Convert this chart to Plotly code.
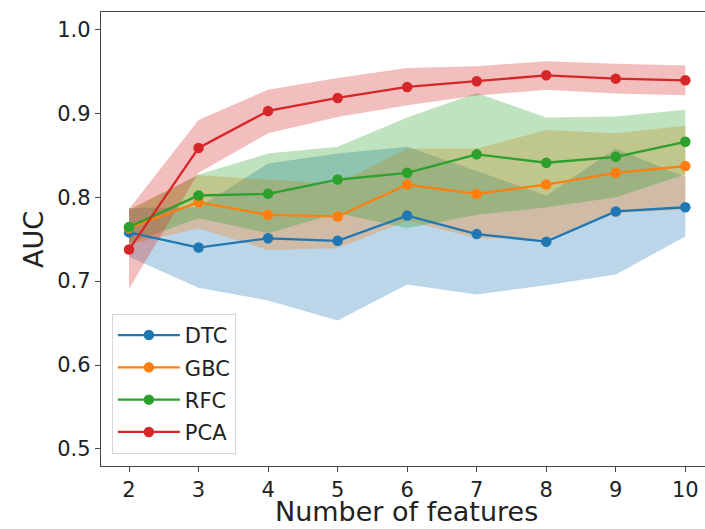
import plotly.graph_objects as go

features = [2, 3, 4, 5, 6, 7, 8, 9, 10]

dtc_mean = [0.758, 0.740, 0.751, 0.748, 0.778, 0.756, 0.747, 0.783, 0.788]
dtc_low = [0.729, 0.692, 0.677, 0.653, 0.696, 0.684, 0.695, 0.708, 0.753]
dtc_high = [0.787, 0.788, 0.840, 0.852, 0.860, 0.831, 0.802, 0.858, 0.824]

gbc_mean = [0.763, 0.794, 0.779, 0.777, 0.815, 0.804, 0.815, 0.829, 0.837]
gbc_low = [0.743, 0.763, 0.737, 0.739, 0.772, 0.751, 0.750, 0.781, 0.785]
gbc_high = [0.786, 0.826, 0.821, 0.816, 0.858, 0.858, 0.880, 0.876, 0.885]

rfc_mean = [0.7645, 0.802, 0.804, 0.821, 0.829, 0.851, 0.841, 0.848, 0.866]
rfc_low = [0.745, 0.775, 0.757, 0.781, 0.763, 0.779, 0.788, 0.800, 0.827]
rfc_high = [0.784, 0.827, 0.852, 0.860, 0.895, 0.924, 0.895, 0.896, 0.904]

pca_mean = [0.7376, 0.8586, 0.9027, 0.9182, 0.9313, 0.938, 0.9452, 0.9412, 0.9392]
pca_low = [0.691, 0.829, 0.876, 0.8955, 0.9095, 0.921, 0.928, 0.9234, 0.9214]
pca_high = [0.786, 0.892, 0.928, 0.942, 0.954, 0.956, 0.962, 0.959, 0.957]

names = ["DTC", "GBC", "RFC", "PCA"]
colors = [(31, 119, 180), (255, 127, 14), (44, 160, 44), (214, 39, 40)]
series = [
    (dtc_mean, dtc_low, dtc_high),
    (gbc_mean, gbc_low, gbc_high),
    (rfc_mean, rfc_low, rfc_high),
    (pca_mean, pca_low, pca_high),
]

fig = go.Figure()

for name, c, (m, lo, hi) in zip(names, colors, series):
    fig.add_trace(go.Scatter(
        x=features + features[::-1],
        y=hi + lo[::-1],
        fill="toself",
        fillcolor="rgba(%d,%d,%d,0.3)" % c,
        line=dict(width=0),
        mode="lines",
        hoverinfo="skip",
        showlegend=False,
    ))

for name, c, (m, lo, hi) in zip(names, colors, series):
    col = "rgb(%d,%d,%d)" % c
    fig.add_trace(go.Scatter(
        x=features, y=m, name=name, mode="lines+markers",
        legendgroup=name,
        line=dict(color=col, width=2.3),
        marker=dict(color=col, size=10.5),
    ))

font = "DejaVu Sans, Liberation Sans, sans-serif"
fig.update_layout(
    width=705, height=529,
    margin=dict(l=101, r=0, t=12, b=63),
    paper_bgcolor="white", plot_bgcolor="white",
    font=dict(family=font, size=21, color="#222"),
    showlegend=True,
    legend=dict(
        x=0.018, y=0.335, xanchor="left", yanchor="top",
        bgcolor="rgba(255,255,255,0.8)", bordercolor="#d6d6d6", borderwidth=1,
        font=dict(size=21, color="#222"),
        itemwidth=62, tracegroupgap=2,
    ),
    xaxis=dict(
        range=[1.597, 10.283], tickmode="array", tickvals=features,
        ticks="outside", ticklen=5, tickwidth=1.2, tickcolor="#444",
        showline=True, linecolor="#444", linewidth=1.3, mirror=True,
        showgrid=False, zeroline=False,
    ),
    yaxis=dict(
        range=[0.4797, 1.0206], tickmode="array",
        tickvals=[0.5, 0.6, 0.7, 0.8, 0.9, 1.0],
        ticktext=["0.5", "0.6", "0.7", "0.8", "0.9", "1.0"],
        ticks="outside", ticklen=5, tickwidth=1.2, tickcolor="#444",
        showline=True, linecolor="#444", linewidth=1.3, mirror=False,
        showgrid=False, zeroline=False,
    ),
    annotations=[
        dict(text="Number of features", xref="paper", yref="paper",
             x=0.5066, y=-0.1013, xanchor="center", yanchor="middle",
             showarrow=False, font=dict(size=27, color="#222")),
        dict(text="AUC", xref="paper", yref="paper",
             x=-0.1126, y=0.5, xanchor="center", yanchor="middle",
             textangle=-90, showarrow=False, font=dict(size=27, color="#222")),
    ],
)

fig.write_html("out.html")
